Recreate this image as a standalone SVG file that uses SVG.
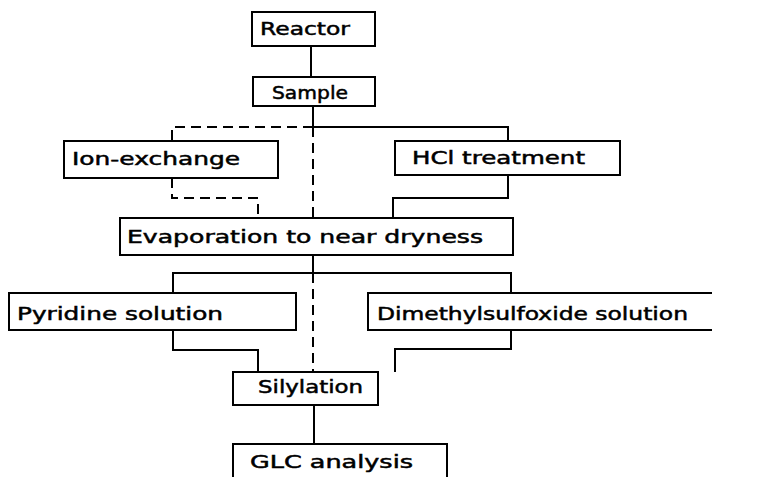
<svg xmlns="http://www.w3.org/2000/svg" width="774" height="477" viewBox="0 0 774 477">
<style>
.box{fill:none;stroke:#000;stroke-width:2}
.ln{fill:none;stroke:#000;stroke-width:2}
.dash{fill:none;stroke:#000;stroke-width:2;stroke-dasharray:10 6}
text{font-family:"DejaVu Sans","Liberation Sans",sans-serif;font-size:18px;fill:#000;stroke:#000;stroke-width:0.5}
</style>
<rect width="774" height="477" fill="#fff"/>
<g id="connectors">
<path class="ln" d="M311 46V77"/>
<path class="ln" d="M313 106V127H508V141"/>
<path class="dash" d="M313 127H172V141"/>
<path class="dash" d="M313 127V218"/>
<path class="dash" d="M172 178V198H258V218"/>
<path class="ln" d="M508 175V198H393V218"/>
<path class="ln" d="M313 255V273"/>
<path class="ln" d="M173 293V273H511V293"/>
<path class="dash" d="M313 273V372"/>
<path class="ln" d="M173 330V350H258V372"/>
<path class="ln" d="M511 330V349H395V372"/>
<path class="ln" d="M314 405V444"/>
</g>
<g id="reactor"><rect class="box" x="252" y="12" width="123" height="34"/><text x="260" y="35" textLength="90" lengthAdjust="spacingAndGlyphs">Reactor</text></g>
<g id="sample"><rect class="box" x="253" y="77" width="122" height="29"/><text x="272" y="99" textLength="76" lengthAdjust="spacingAndGlyphs">Sample</text></g>
<g id="ion-exchange"><rect class="box" x="64" y="141" width="214" height="37"/><text x="72" y="165" textLength="168" lengthAdjust="spacingAndGlyphs">Ion-exchange</text></g>
<g id="hcl"><rect class="box" x="395" y="141" width="225" height="34"/><text x="412" y="164" textLength="173" lengthAdjust="spacingAndGlyphs">HCl treatment</text></g>
<g id="evaporation"><rect class="box" x="120" y="218" width="393" height="37"/><text x="127" y="243" textLength="356" lengthAdjust="spacingAndGlyphs">Evaporation to near dryness</text></g>
<g id="pyridine"><rect class="box" x="9" y="293" width="287" height="37"/><text x="17" y="320" textLength="206" lengthAdjust="spacingAndGlyphs">Pyridine solution</text></g>
<g id="dmso"><path class="box" d="M712 293H368V330H712"/><text x="377" y="320" textLength="311" lengthAdjust="spacingAndGlyphs">Dimethylsulfoxide solution</text></g>
<g id="silylation"><rect class="box" x="233" y="372" width="145" height="33"/><text x="258" y="393" textLength="105" lengthAdjust="spacingAndGlyphs">Silylation</text></g>
<g id="glc"><path class="box" d="M233 478V444H447V478"/><text x="250" y="468" textLength="163" lengthAdjust="spacingAndGlyphs">GLC analysis</text></g>
</svg>
